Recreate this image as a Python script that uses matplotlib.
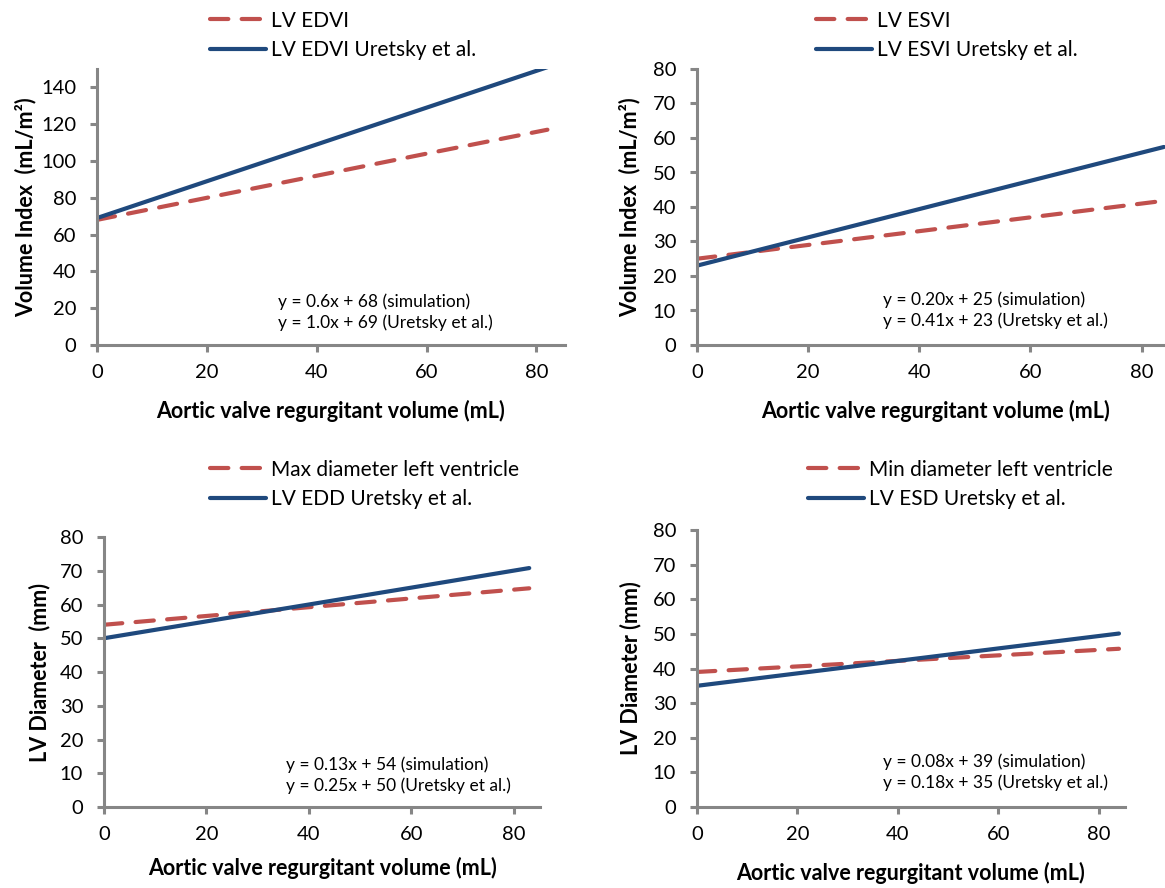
import matplotlib
matplotlib.use("Agg")
import matplotlib.pyplot as plt

plt.rcParams['font.family'] = ['Lato', 'DejaVu Sans']

RED = '#C0504D'
BLUE = '#1F497D'
GRAY = '#868686'

# ---- data ----
x_edv = [0, 20, 40, 60, 82]
edvi_sim = [68, 80, 92, 104, 117]
edvi_uretsky = [69, 89, 109, 129, 151]

x_esv = [0, 20, 40, 60, 84]
esvi_sim = [25, 29, 33, 37, 41.8]
esvi_uretsky = [23, 31.2, 39.4, 47.6, 57.4]

x_edd = [0, 20, 40, 60, 83]
edd_sim = [54, 56.6, 59.2, 61.8, 64.8]
edd_uretsky = [50, 55, 60, 65, 70.8]

x_esd = [0, 20, 40, 60, 84]
esd_sim = [39, 40.6, 42.2, 43.8, 45.7]
esd_uretsky = [35, 38.6, 42.2, 45.8, 50.1]

panels = [
    dict(x=x_edv, sim=edvi_sim, ure=edvi_uretsky,
         labels=['LV EDVI', 'LV EDVI Uretsky et al.'],
         ylabel='Volume Index  (mL/m²)', ylim=150, yticks=range(0, 141, 20), xmax=85.2,
         eq='y = 0.6x + 68 (simulation)\ny = 1.0x + 69 (Uretsky et al.)',
         rect=[97, 69, 565, 345], eqpos=(0.387, 0.12), ylab=-0.13, xlab=(0.5, -0.2),
         leg=(195, -4)),
    dict(x=x_esv, sim=esvi_sim, ure=esvi_uretsky,
         labels=['LV ESVI', 'LV ESVI Uretsky et al.'],
         ylabel='Volume Index  (mL/m²)', ylim=80, yticks=range(0, 81, 10), xmax=84.2,
         eq='y = 0.20x + 25 (simulation)\ny = 0.41x + 23 (Uretsky et al.)',
         rect=[697, 69, 1165, 345], eqpos=(0.397, 0.127), ylab=-0.12, xlab=(0.51, -0.2),
         leg=(801, -4)),
    dict(x=x_edd, sim=edd_sim, ure=edd_uretsky,
         labels=['Max diameter left ventricle', 'LV EDD Uretsky et al.'],
         ylabel='LV Diameter  (mm)', ylim=80, yticks=range(0, 81, 10), xmax=85.1,
         eq='y = 0.13x + 54 (simulation)\ny = 0.25x + 50 (Uretsky et al.)',
         rect=[104, 537, 540, 807], eqpos=(0.417, 0.118), ylab=-0.124, xlab=(0.5, -0.185),
         leg=(195, 445)),
    dict(x=x_esd, sim=esd_sim, ure=esd_uretsky,
         labels=['Min diameter left ventricle', 'LV ESD Uretsky et al.'],
         ylabel='LV Diameter (mm)', ylim=80, yticks=range(0, 81, 10), xmax=85.2,
         eq='y = 0.08x + 39 (simulation)\ny = 0.18x + 35 (Uretsky et al.)',
         rect=[697, 530, 1125, 807], eqpos=(0.435, 0.126), ylab=-0.129, xlab=(0.5, -0.2),
         leg=(793, 445)),
]

W, H = 1165, 888
fig = plt.figure(figsize=(W / 100, H / 100), dpi=100)

for p in panels:
    l, t, r, b = p['rect']
    ax = fig.add_axes([l / W, 1 - b / H, (r - l) / W, (b - t) / H])
    h1, = ax.plot(p['x'], p['sim'], color=RED, lw=3, dashes=(4.4, 3.2),
                  dash_capstyle='round', label=p['labels'][0])
    h2, = ax.plot(p['x'], p['ure'], color=BLUE, lw=3, solid_capstyle='round',
                  label=p['labels'][1])
    ax.set_xlim(0, p['xmax'])
    ax.set_ylim(0, p['ylim'])
    ax.set_xticks([0, 20, 40, 60, 80])
    ax.set_yticks(list(p['yticks']))
    for s in ['top', 'right']:
        ax.spines[s].set_visible(False)
    for s in ['left', 'bottom']:
        ax.spines[s].set_color(GRAY)
        ax.spines[s].set_linewidth(2.2)
    ax.tick_params(axis='both', colors=GRAY, labelcolor='black', labelsize=14.5,
                   width=2.2, length=5)
    ax.tick_params(axis='x', pad=9)
    ax.tick_params(axis='y', pad=10)
    ax.set_ylabel(p['ylabel'], fontsize=15.5, fontweight='bold')
    ax.yaxis.set_label_coords(p['ylab'], 0.5)
    ax.set_xlabel('Aortic valve regurgitant volume (mL)', fontsize=15.5, fontweight='bold')
    ax.xaxis.set_label_coords(*p['xlab'])
    ax.text(p['eqpos'][0], p['eqpos'][1], p['eq'], transform=ax.transAxes,
            fontsize=12.5, va='center', ha='left', linespacing=1.35)
    lx, ly = p['leg']
    fig.legend(handles=[h1, h2], loc='upper left', bbox_to_anchor=(lx / W, 1 - ly / H),
               frameon=False, fontsize=15, handlelength=2.7, handletextpad=0.25,
               labelspacing=0.45, borderpad=0.2)

fig.savefig('out.png', dpi=100)
